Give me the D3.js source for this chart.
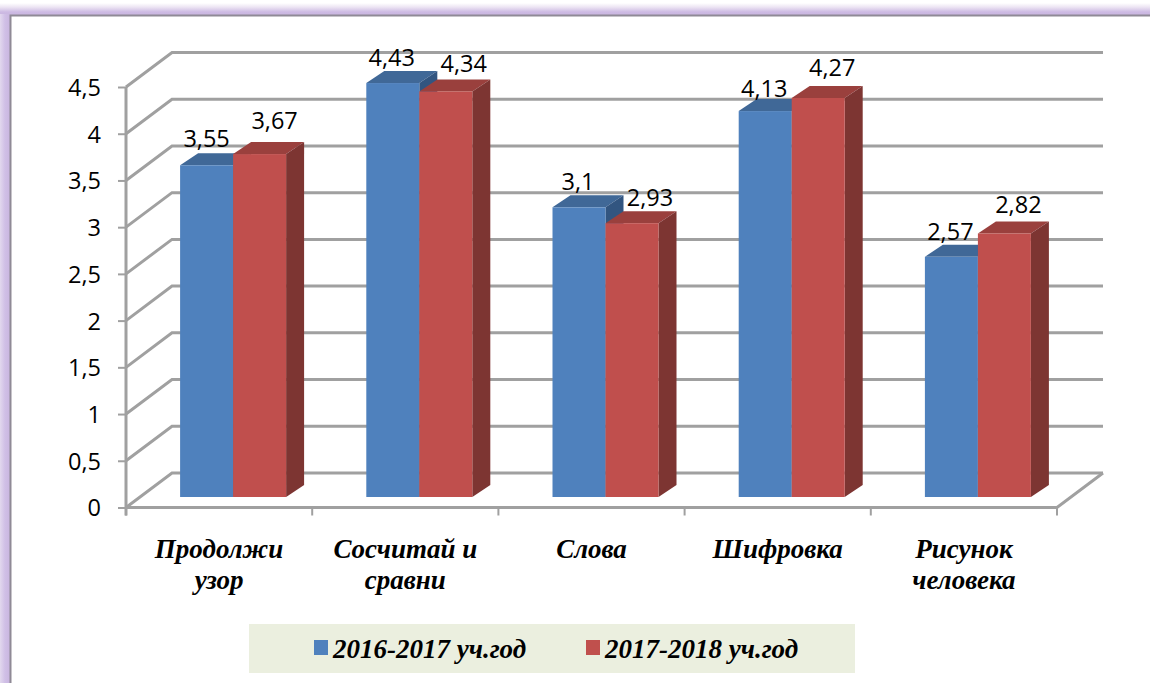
<!DOCTYPE html>
<html><head><meta charset="utf-8">
<script src="https://cdn.jsdelivr.net/npm/d3@7"></script>
<style>html,body{margin:0;padding:0;background:#fff;overflow:hidden}svg{display:block}</style>
</head><body><div id="c"></div>
<script>
const categories=[["Продолжи","узор"],["Сосчитай и","сравни"],["Слова"],["Шифровка"],["Рисунок","человека"]];
const seriesNames=["2016-2017 уч.год","2017-2018 уч.год"];
const values2016=[3.55,4.43,3.1,4.13,2.57];
const values2017=[3.67,4.34,2.93,4.27,2.82];
const valueLabels2016=["3,55","4,43","3,1","4,13","2,57"];
const valueLabels2017=["3,67","4,34","2,93","4,27","2,82"];
const yTicks=[0,.5,1,1.5,2,2.5,3,3.5,4,4.5];
// hand-placed label nudges from the reference: [dx, dy] from the bar's front-top centre
const nudge2016=[[0,-27],[-1,-26],[-1,-26],[-1,-23],[-1,-25]];
const nudge2017=[[15,-34],[18,-28],[18,-26],[14,-30],[14,-29]];

const W=1150,H=683;
const svg=d3.select("#c").append("svg").attr("width",W).attr("height",H);
const defs=svg.append("defs");
const gt=defs.append("linearGradient").attr("id","gt").attr("x1",0).attr("x2",0).attr("y1",0).attr("y2",1);
gt.append("stop").attr("offset",0).attr("stop-color","#fff");
gt.append("stop").attr("offset",.35).attr("stop-color","#ece4f3");
gt.append("stop").attr("offset",.75).attr("stop-color","#cdbae3");
gt.append("stop").attr("offset",1).attr("stop-color","#c9b6e0");
const gl=defs.append("linearGradient").attr("id","gl").attr("x1",0).attr("x2",1).attr("y1",0).attr("y2",0);
gl.append("stop").attr("offset",0).attr("stop-color","#e2d8ee");
gl.append("stop").attr("offset",.5).attr("stop-color","#d0bfe6");
gl.append("stop").attr("offset",1).attr("stop-color","#c9b6e0");
const blur=defs.append("filter").attr("id","soft").attr("x","-2%").attr("y","-2%").attr("width","104%").attr("height","104%");
blur.append("feGaussianBlur").attr("stdDeviation",.5);

// frame
svg.append("rect").attr("x",0).attr("y",3).attr("width",W).attr("height",12).attr("fill","url(#gt)");
svg.append("rect").attr("x",0).attr("y",14).attr("width",10).attr("height",H-14).attr("fill","url(#gl)");
svg.append("path").attr("d",`M10.5,${H}V15.5H${W}`).attr("fill","none").attr("stroke","#8f8a96").attr("stroke-width",2);

const x0=126,x1=1057,y0=507.5,yTop=87;
const wallDx=46,wallDy=-34.5;
const barShiftX=14,barShiftY=-10.5;
const depthX=18,depthY=-12;
const y=d3.scaleLinear().domain([0,4.5]).range([y0,yTop]);
const x=d3.scaleBand().domain(d3.range(categories.length)).range([x0,x1]);
const sub=d3.scaleBand().domain([0,1]).range([0,106]);
const grey="#a0a0a0";

const root=svg.append("g");
const chart=root.append("g").attr("filter","url(#soft)");
// gridlines: side wall + back wall
chart.append("g").selectAll("path").data(yTicks).join("path")
 .attr("d",t=>`M${x0},${y(t)}L${x0+wallDx},${y(t)+wallDy}H${x1+wallDx}`)
 .attr("fill","none").attr("stroke",grey).attr("stroke-width",3);
// floor right edge and front axis
chart.append("path").attr("d",`M${x0},${y0}H${x1}L${x1+wallDx},${y0+wallDy}`).attr("fill","none").attr("stroke",grey).attr("stroke-width",3);
chart.append("path").attr("d",`M${x0},${yTop}V${y0+8}`).attr("fill","none").attr("stroke",grey).attr("stroke-width",3);
// axis ticks
const yAxis=d3.axisLeft(y).tickValues(yTicks).tickSize(8).tickPadding(17).tickFormat(d=>String(d).replace(".",","));
const gy=root.append("g").attr("transform",`translate(${x0},0)`).call(yAxis);
gy.select(".domain").remove();
gy.selectAll(".tick line").attr("stroke",grey).attr("stroke-width",2);
gy.selectAll("text").attr("font-family","'Open Sans'").attr("font-size",23.5).attr("fill","#000").attr("dy","0.36em");
const xTicks=d3.range(categories.length+1).map(i=>i===categories.length?x1:x(i));
chart.append("g").selectAll("line").data(xTicks).join("line")
 .attr("x1",d=>d).attr("x2",d=>d).attr("y1",y0).attr("y2",y0+8).attr("stroke",grey).attr("stroke-width",2);

const series=[
 {vals:values2016,labs:valueLabels2016,nudge:nudge2016,front:"#4f81bd",top:"#3f6797",side:"#335580",idx:0},
 {vals:values2017,labs:valueLabels2017,nudge:nudge2017,front:"#c0504d",top:"#9a403e",side:"#7d3432",idx:1}
];
const bw=sub.bandwidth();
const barX=(i,s)=>x(i)+x.bandwidth()/2+barShiftX-bw+sub(s);
const bars=chart.append("g");
categories.forEach((c,i)=>{
 series.forEach(s=>{
  const l=barX(i,s.idx),r=l+bw,t=y(s.vals[i])+barShiftY,b=y0+barShiftY;
  const g=bars.append("g");
  g.append("path").attr("d",`M${l},${t}L${l+depthX},${t+depthY}H${r+depthX}L${r},${t}Z`).attr("fill",s.top);
  g.append("path").attr("d",`M${r},${t}L${r+depthX},${t+depthY}V${b+depthY}L${r},${b}Z`).attr("fill",s.side);
  g.append("rect").attr("x",l).attr("y",t).attr("width",bw).attr("height",b-t).attr("fill",s.front);
 });
});
// data labels
const labels=root.append("g").attr("font-family","'Open Sans'").attr("font-size",23.5).attr("fill","#000").attr("text-anchor","middle");
series.forEach(s=>{
 s.vals.forEach((v,i)=>{
  labels.append("text").attr("x",barX(i,s.idx)+bw/2+s.nudge[i][0]).attr("y",y(v)+barShiftY+s.nudge[i][1]).attr("dy","0.36em").text(s.labs[i]);
 });
});
// category labels
const catG=root.append("g").attr("font-family","'Liberation Serif'").attr("font-weight","bold").attr("font-style","italic").attr("font-size",27).attr("fill","#000").attr("text-anchor","middle");
categories.forEach((c,i)=>{
 c.forEach((line,k)=>{
  catG.append("text").attr("x",x(i)+x.bandwidth()/2).attr("y",558+k*31).text(line);
 });
});
// legend
root.append("rect").attr("x",249).attr("y",624).attr("width",606).attr("height",49).attr("fill","#ebefdf");
const legendX=[314,586];
series.forEach((s,k)=>{
 root.append("rect").attr("x",legendX[k]).attr("y",640).attr("width",14).attr("height",15).attr("fill",s.front);
 root.append("text").attr("x",legendX[k]+19).attr("y",658).attr("font-family","'Liberation Serif'").attr("font-weight","bold").attr("font-style","italic").attr("font-size",27).attr("fill","#000").text(seriesNames[k]);
});
</script></body></html>
